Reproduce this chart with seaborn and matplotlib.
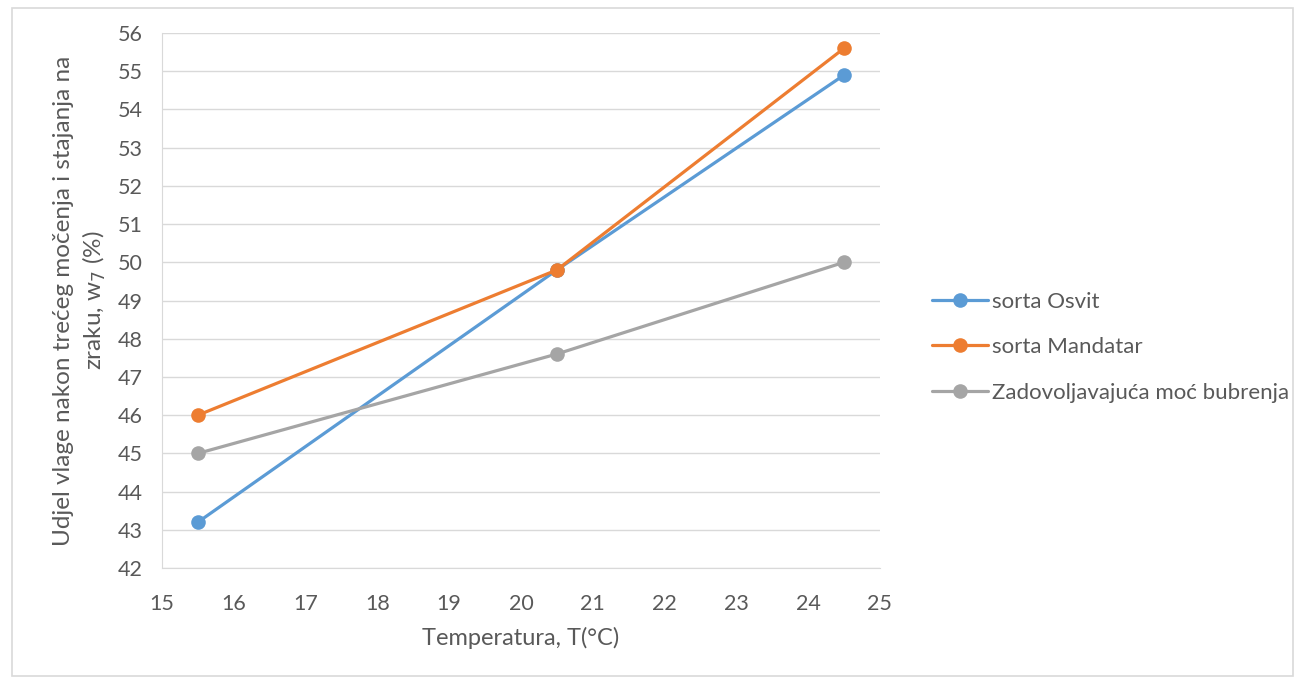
import pandas as pd
import matplotlib.pyplot as plt
import seaborn as sns
from matplotlib.patches import Rectangle

# Podaci očitani s grafa
temperatura = [15.5, 20.5, 24.5]
osvit = [43.2, 49.8, 54.9]
mandatar = [46.0, 49.8, 55.6]
zadovoljavajuca = [45.0, 47.6, 50.0]
serije = ['sorta Osvit', 'sorta Mandatar', 'Zadovoljavajuća moć bubrenja']
boje = ['#5B9BD5', '#ED7D31', '#A5A5A5']

df = pd.DataFrame({
    'T': temperatura * 3,
    'w7': osvit + mandatar + zadovoljavajuca,
    'serija': [s for s in serije for _ in temperatura],
})

sns.set_style('white')
plt.rcParams['font.family'] = ['Lato', 'DejaVu Sans']
tekst = '#595959'

fig = plt.figure(figsize=(12.94, 6.81), dpi=100)
ax = fig.add_axes([0.1252, 0.1659, 0.5548, 0.7856])

sns.lineplot(data=df, x='T', y='w7', hue='serija', palette=boje, marker='o',
             markersize=10.5, markeredgewidth=0, linewidth=2.3, ax=ax)

ax.set_xlim(15, 25)
ax.set_ylim(42, 56)
ax.set_xticks(range(15, 26))
ax.set_yticks(range(42, 57))
ax.yaxis.grid(True, color='#D9D9D9', linewidth=1)
ax.xaxis.grid(False)
for s in ['top', 'right']:
    ax.spines[s].set_visible(False)
for s in ['left', 'bottom']:
    ax.spines[s].set_color('#D9D9D9')
ax.tick_params(axis='both', labelsize=15.5, colors=tekst, length=0)
ax.tick_params(axis='y', pad=14)
ax.tick_params(axis='x', pad=19)

ax.set_xlabel('Temperatura, T(°C)', fontsize=17, color=tekst)
ax.xaxis.set_label_coords(0.5, -0.11)
ax.set_ylabel('Udjel vlage nakon trećeg močenja i stajanja na\nzraku, w$_7$ (%)',
              fontsize=17.5, color=tekst, linespacing=1.35)
ax.yaxis.set_label_coords(-0.075, 0.5)

leg = ax.legend(loc='center left', bbox_to_anchor=(1.045, 0.413), frameon=False,
                fontsize=16, labelcolor=tekst, handlelength=2.5, labelspacing=1.15,
                handletextpad=0.2)

fig.patches.append(Rectangle((0.009, 0.007), 0.99, 0.981, transform=fig.transFigure,
                             fill=False, edgecolor='#D9D9D9', linewidth=1.2))

fig.savefig('out.png', dpi=100)
